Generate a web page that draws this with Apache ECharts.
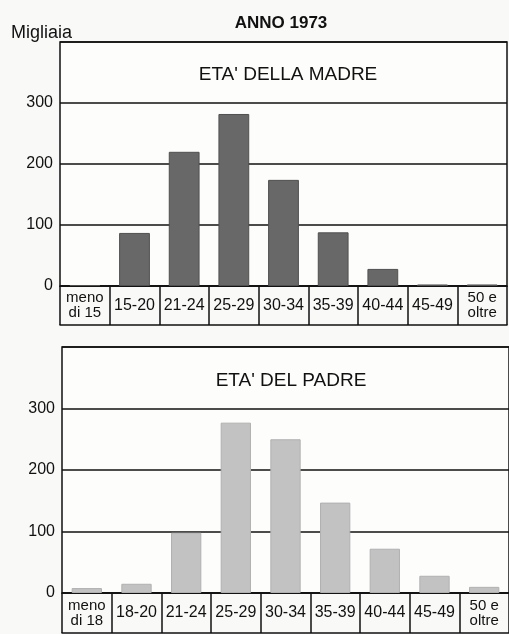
<!DOCTYPE html>
<html>
<head>
<meta charset="utf-8">
<title>Anno 1973</title>
<script src="https://cdn.jsdelivr.net/npm/echarts@6/dist/echarts.min.js"></script>
<style>
  html, body { margin: 0; padding: 0; background: #f9f9f8; }
  #chart { width: 509px; height: 634px; }
</style>
</head>
<body>
<div id="chart"></div>
<script>
// classi di età
const etaMadre = ['meno\ndi 15', '15-20', '21-24', '25-29', '30-34', '35-39', '40-44', '45-49', '50 e\noltre']
const etaPadre = ['meno\ndi 18', '18-20', '21-24', '25-29', '30-34', '35-39', '40-44', '45-49', '50 e\noltre']

// nati (migliaia)
const natiMadre = [1.5, 87, 220, 282, 174, 88, 28, 2.5, 2.5]
const natiPadre = [8, 15, 98, 277, 250, 147, 72, 28, 10]

const yTicks = [0, 100, 200, 300]

const font = '"Liberation Sans", Arial, Helvetica, sans-serif'
const ink = '#111'

const chart = echarts.init(document.getElementById('chart'))

// etichette su due righe un po' più piccole
function catLabel(v) {
  if (v.indexOf('\n') >= 0) {
    return v.split('\n').map(l => '{s|' + l + '}').join('\n')
  }
  return v
}

function makeXAxes(gridIndex, data, len) {
  return [
    {
      gridIndex: gridIndex,
      type: 'category',
      data: data,
      boundaryGap: true,
      axisLine: { show: true, lineStyle: { color: ink, width: 1.5 } },
      axisTick: { show: true, interval: 0, length: len, lineStyle: { color: ink, width: 1.5 } },
      axisLabel: {
        interval: 0,
        margin: len / 2,
        verticalAlign: 'middle',
        color: ink,
        fontFamily: font,
        fontSize: 16,
        formatter: catLabel,
        rich: { s: { fontSize: 15, lineHeight: 15, fontFamily: font, color: ink } }
      }
    },
    {
      // linea di chiusura sotto le etichette
      gridIndex: gridIndex,
      type: 'category',
      data: data,
      position: 'bottom',
      offset: len,
      axisLine: { show: true, lineStyle: { color: ink, width: 1.5 } },
      axisTick: { show: false },
      axisLabel: { show: false }
    }
  ]
}

function makeYAxis(gridIndex) {
  return {
    gridIndex: gridIndex,
    type: 'value',
    min: 0,
    max: 400,
    interval: 100,
    axisLine: { show: false },
    axisTick: { show: false },
    splitLine: { lineStyle: { color: ink, width: 1.5 } },
    axisLabel: {
      margin: 7,
      color: ink,
      fontFamily: font,
      fontSize: 16,
      formatter: v => (yTicks.indexOf(v) >= 0 ? String(v) : '')
    }
  }
}

const option = {
  backgroundColor: '#f9f9f8',
  animation: false,
  title: [
    {
      text: 'ANNO 1973',
      left: 276,
      top: 10,
      textAlign: 'center',
      textStyle: { fontFamily: font, fontSize: 17, fontWeight: 'bold', color: ink }
    },
    {
      text: 'Migliaia',
      left: 6,
      top: 19,
      textStyle: { fontFamily: font, fontSize: 18, fontWeight: 'normal', color: ink }
    },
    {
      text: "ETA' DELLA MADRE",
      left: 283,
      top: 60,
      textAlign: 'center',
      textStyle: { fontFamily: font, fontSize: 19, fontWeight: 'normal', color: ink }
    },
    {
      text: "ETA' DEL PADRE",
      left: 286,
      top: 366,
      textAlign: 'center',
      textStyle: { fontFamily: font, fontSize: 19, fontWeight: 'normal', color: ink }
    }
  ],
  grid: [
    { left: 60, top: 42, width: 447, height: 244, show: true, backgroundColor: '#fdfdfc', borderColor: ink, borderWidth: 1.5 },
    { left: 62, top: 347, width: 455, height: 246, show: true, backgroundColor: '#fdfdfc', borderColor: ink, borderWidth: 1.5 }
  ],
  xAxis: [].concat(makeXAxes(0, etaMadre, 39), makeXAxes(1, etaPadre, 40)),
  yAxis: [makeYAxis(0), makeYAxis(1)],
  series: [
    {
      name: 'Madre',
      type: 'bar',
      xAxisIndex: 0,
      yAxisIndex: 0,
      data: natiMadre,
      barWidth: '62%',
      itemStyle: { color: '#686868', borderColor: '#505050', borderWidth: 1 }
    },
    {
      name: 'Padre',
      type: 'bar',
      xAxisIndex: 2,
      yAxisIndex: 1,
      data: natiPadre,
      barWidth: '61%',
      itemStyle: { color: '#c2c2c2', borderColor: '#b0b0b0', borderWidth: 1 }
    }
  ]
}

chart.setOption(option)

window.addEventListener('resize', () => {
  chart.resize()
})
</script>
</body>
</html>
